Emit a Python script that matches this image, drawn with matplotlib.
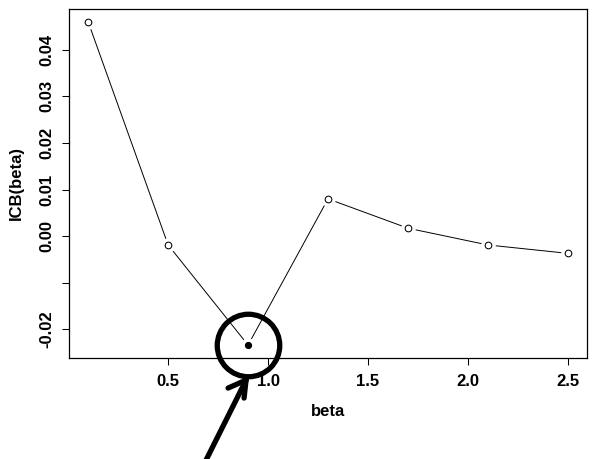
import numpy as np
import matplotlib
matplotlib.use("Agg")
import matplotlib.pyplot as plt
from matplotlib.lines import Line2D
from matplotlib.transforms import IdentityTransform

beta = [0.1, 0.5, 0.9, 1.3, 1.7, 2.1, 2.5]
icb = [0.0460, -0.0019, -0.0234, 0.0080, 0.0017, -0.0019, -0.0037]
xticks = [0.5, 1.0, 1.5, 2.0, 2.5]
xticklabels = ["0.5", "1.0", "1.5", "2.0", "2.5"]
yticks = [-0.02, -0.01, 0.00, 0.01, 0.02, 0.03, 0.04]
yticklabels = ["-0.02", "", "0.00", "0.01", "0.02", "0.03", "0.04"]

plt.rcParams['font.family'] = ['Liberation Sans', 'DejaVu Sans']
plt.rcParams['font.weight'] = 'bold'

W, H, DPI = 592, 459, 100
fig = plt.figure(figsize=(W / DPI, H / DPI), dpi=DPI)
ax = fig.add_axes([69 / W, 1 - 358 / H, (587 - 69) / W, (358 - 9) / H])

x = np.array(beta)
y = np.array(icb)
ax.plot(x, y, color='black', lw=0.7, zorder=1)
ax.plot(x, y, ls='none', marker='o', ms=10.5, mfc='white', mec='none', zorder=2)
imin = int(np.argmin(y))
mask = np.arange(len(x)) != imin
ax.plot(x[mask], y[mask], ls='none', marker='o', ms=4.8, mfc='white', mec='black', mew=0.75, zorder=3)
ax.plot([x[imin]], [y[imin]], ls='none', marker='o', ms=4.2, mfc='black', mec='black', zorder=3)

rng = y.max() - y.min()
ax.set_ylim(y.min() - 0.04 * rng, y.max() + 0.04 * rng)
xr = x.max() - x.min()
ax.set_xlim(x.min() - 0.04 * xr, x.max() + 0.04 * xr)

ax.set_xticks(xticks)
ax.set_xticklabels(xticklabels, fontsize=12, fontweight='bold')
ax.set_yticks(yticks)
ax.set_yticklabels(yticklabels, fontsize=12, fontweight='bold', rotation=90)
for lbl in ax.get_yticklabels():
    lbl.set_va('center')
ax.tick_params(direction='out', length=5, width=0.75)
ax.tick_params(axis='x', pad=6.5)
ax.tick_params(axis='y', pad=5.5)
for s in ax.spines.values():
    s.set_linewidth(0.9)

ax.set_xlabel('beta', fontsize=12, fontweight='bold', labelpad=10.5)
ax.set_ylabel('ICB(beta)', fontsize=12, fontweight='bold', labelpad=11)

# Highlight circle around the minimum
ax.plot([x[imin]], [y[imin]], ls='none', marker='o', ms=45, mfc='none', mec='black',
        mew=3.8, clip_on=False, zorder=5)

# Arrow pointing to the circle (display pixels relative to the minimum point)
fig.canvas.draw()
px, py = ax.transData.transform((x[imin], y[imin]))
tip = (px - 2, py - 35)
segs = [
    [(px - 47, py - 125), tip],
    [(px - 20, py - 43), tip],
    [(px - 4, py - 53), tip],
]
for (x0, y0), (x1, y1) in segs:
    ln = Line2D([x0, x1], [y0, y1], transform=IdentityTransform(), color='black',
                lw=3.8, solid_capstyle='round', solid_joinstyle='round')
    fig.add_artist(ln)

fig.savefig('out.png', dpi=DPI)
